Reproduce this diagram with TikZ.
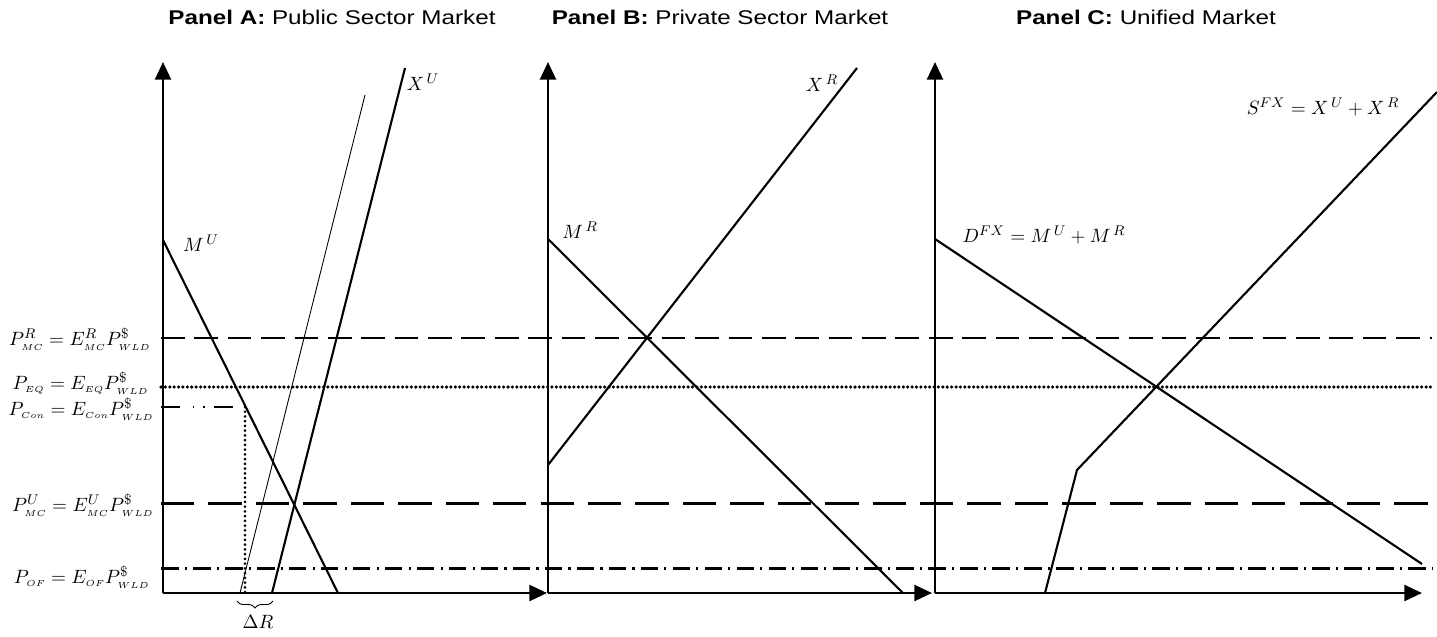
\documentclass[tikz,border=0pt]{standalone}
\usepackage{fontspec}
\setsansfont{Liberation Sans}[FakeStretch=1.22]
\usetikzlibrary{arrows.meta,decorations.pathreplacing}
\newcommand{\lo}[1]{_{\scriptscriptstyle #1}}

\begin{document}
\begin{tikzpicture}[
        x=0.02cm, y=-0.02cm,
        axis/.style={line width=1.6pt, -{Triangle[length=10pt,width=9pt]}},
        curve/.style={line width=1.2pt},
        thinline/.style={line width=0.5pt},
        lvl/.style={line width=1.7pt},
        mcR/.style={lvl, dash pattern=on 13.5pt off 5.5pt},
        eqline/.style={line width=2pt, line cap=round, dash pattern=on 0pt off 2.5pt},
        conline/.style={lvl, dash pattern=on 11pt off 7pt on 1pt off 5pt on 1pt off 5pt},
        mcU/.style={lvl, dash pattern=on 19pt off 8pt},
        ofline/.style={lvl, dash pattern=on 10pt off 3.5pt on 1.2pt off 3.5pt},
        drop/.style={line width=1.7pt, line cap=round, dash pattern=on 0pt off 2.7pt},
        title/.style={font=\sffamily\fontsize{11.3}{13}\selectfont},
        lab/.style={font=\fontsize{11}{13}\selectfont, inner sep=0pt}
        ]
        \useasboundingbox (0,0) rectangle (1437,636);

        \node[title] (tA) at (332,17) {\textbf{Panel A:} Public Sector Market};
        \node[title] (tB) at (720,17) {\textbf{Panel B:} Private Sector Market};
        \node[title] (tC) at (1146,17) {\textbf{Panel C:} Unified Market};

        \foreach \p/\x/\e in {A/163/547,B/548/932,C/935/1422} {
          \coordinate (o\p) at (\x,593);
          \coordinate (y\p) at (\x,62);
          \coordinate (x\p) at (\e,593);
          \draw[axis] (o\p) -- (y\p);
          \draw[axis] (o\p) -- (x\p);
        }

        \foreach \n/\y/\sty in {mcr/338/mcR,eq/387/eqline,mcu/503/mcU,of/568/ofline} {
          \coordinate (\n0) at (161,\y);
          \coordinate (\n1) at (1432,\y);
          \draw[\sty] (\n0) -- (\n1);
        }

        \node[lab, anchor=east] (lmcr) at (151,339) {$P^{R}\lo{MC} = E^{R}\lo{MC}P^{\$}\lo{WLD}$};
        \node[lab, anchor=east] (leq) at (149,383) {$P\lo{EQ} = E\lo{EQ}P^{\$}\lo{WLD}$};
        \node[lab, anchor=east] (lcon) at (154,409) {$P\lo{Con} = E\lo{Con}P^{\$}\lo{WLD}$};
        \node[lab, anchor=east] (lmcu) at (154,505) {$P^{U}\lo{MC} = E^{U}\lo{MC}P^{\$}\lo{WLD}$};
        \node[lab, anchor=east] (lof) at (150,577) {$P\lo{OF} = E\lo{OF}P^{\$}\lo{WLD}$};

        \coordinate (mu0) at (163,240);
        \coordinate (mu1) at (338,593);
        \coordinate (con0) at (161,407);
        \coordinate (con1) at (245,407);
        \coordinate (con2) at (245,593);
        \coordinate (xs0) at (240,593);
        \coordinate (xs1) at (365,95);
        \coordinate (xu0) at (272,593);
        \coordinate (xu1) at (405,68);
        \draw[curve] (mu0) -- (mu1);
        \draw[conline] (con0) -- (con1);
        \draw[drop] (con1) -- (con2);
        \draw[thinline] (xs0) -- (xs1);
        \draw[curve] (xu0) -- (xu1);
        \draw[thinline, decorate, decoration={brace, mirror, amplitude=4pt}] (237,601) -- (273,601);
        \node[lab] (dR) at (258,622) {$\Delta R$};
        \node[lab] (lmu) at (201,243) {$M^{\,U}$};
        \node[lab] (lxu) at (423,82) {$X^{\,U}$};

        \coordinate (mr0) at (548,239);
        \coordinate (mr1) at (903,593);
        \coordinate (xr0) at (548,465);
        \coordinate (xr1) at (857,68);
        \draw[curve] (mr0) -- (mr1);
        \draw[curve] (xr0) -- (xr1);
        \node[lab] (lmr) at (580,230) {$M^{\,R}$};
        \node[lab] (lxr) at (822,83) {$X^{\,R}$};

        \coordinate (d0) at (935,239);
        \coordinate (d1) at (1422,564);
        \coordinate (s0) at (1045,593);
        \coordinate (s1) at (1077,470);
        \coordinate (s2) at (1437,92);
        \draw[curve] (d0) -- (d1);
        \draw[curve] (s0) -- (s1) -- (s2);
        \node[lab] (ld) at (1044,235) {$D^{FX} = M^{\,U} + M^{\,R}$};
        \node[lab] (ls) at (1323,107) {$S^{FX} = X^{\,U} + X^{\,R}$};
      \end{tikzpicture}
\end{document}
